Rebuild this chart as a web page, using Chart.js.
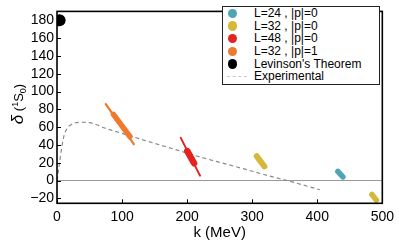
<!DOCTYPE html>
<html>
<head>
<meta charset="utf-8">
<script src="https://cdn.jsdelivr.net/npm/chart.js@4.4.1/dist/chart.umd.min.js"></script>
<style>
  html,body{margin:0;padding:0;background:#fff;}
  #wrap{position:relative;width:399px;height:249px;}
  #legend{position:absolute;left:222px;top:6px;width:158px;height:79px;border:1px solid #222;box-sizing:border-box;
    font:12px "Liberation Sans",Arial,sans-serif;color:#000;background:#fff;}
  #legend .row{position:relative;height:12.7px;line-height:12.7px;}
  #legend .dot{position:absolute;left:5px;top:1.7px;width:9.4px;height:9.4px;border-radius:50%;}
  #legend .dash{position:absolute;left:4px;top:6px;width:20px;border-top:1px dashed #c8c8c8;}
  #legend .txt{position:absolute;left:31px;top:0;white-space:nowrap;}
</style>
</head>
<body>
<div id="wrap">
  <canvas id="c" width="399" height="249"></canvas>
  <div id="legend"></div>
</div>
<script>
(function(){
  // axis ticks
  const xTicks = [0, 100, 200, 300, 400, 500];
  const yTicks = [-20, 0, 20, 40, 60, 80, 100, 120, 140, 160, 180];

  // experimental phase shift (dashed curve)
  const expK     = [0, 2, 4, 7, 11, 16, 22, 28, 37, 50, 60, 72, 100, 140, 172, 220, 278, 330, 354, 404];
  const expDelta = [0, 10, 20.5, 36, 51, 59, 63, 65, 65.5, 65, 63, 59.4, 53, 44, 37, 26.5, 15, 4.5, 0, -10.3];

  // lattice results: ends of the error bands (thin = full band, core = inner ellipse)
  const l32p1ThinK  = [75, 118.1],   l32p1ThinD  = [85.9, 40.9];
  const l32p1CoreK  = [86.7, 112],   l32p1CoreD  = [74.3, 49.5];
  const l48ThinK    = [190.2, 219.8], l48ThinD   = [48, 5.6];
  const l48CoreK    = [200.3, 210.7], l48CoreD   = [33.1, 19.5];
  const l32aK       = [307, 318.8],  l32aD       = [27.4, 15.9];
  const l32bK       = [484, 491],    l32bD       = [-15.6, -22];
  const l24K        = [431.6, 439.4], l24D       = [10.3, 4.1];
  const levinsonK   = [4],           levinsonD   = [180];

  const legendLabels = ['L=24 , |p|=0', 'L=32 , |p|=0', 'L=48 , |p|=0', 'L=32 , |p|=1', "Levinson's Theorem", 'Experimental'];
  const colors = { teal:'#4ea5b5', yellow:'#d5b83b', red:'#e2231f', orange:'#ee7a2e', black:'#000', gray:'#8a8a8a' };
  const legendColors = [colors.teal, colors.yellow, colors.red, colors.orange, colors.black, null];

  const FONT = '"Liberation Sans", Arial, Helvetica, sans-serif';

  function pts(ks, ds){ return ks.map((k,i)=>({x:k, y:ds[i]})); }
  function band(data, color, width){
    return { data: pts(data[0], data[1]), showLine:true, borderColor:color, backgroundColor:color,
      borderWidth:width, borderCapStyle:'round', pointRadius:0, pointHoverRadius:0 };
  }

  // legend box inside the plot
  const legend = document.getElementById('legend');
  legendLabels.forEach((lab,i)=>{
    const row = document.createElement('div'); row.className = 'row';
    const mark = document.createElement('span');
    if(legendColors[i]){ mark.className = 'dot'; mark.style.background = legendColors[i]; }
    else mark.className = 'dash';
    const t = document.createElement('span'); t.className = 'txt'; t.textContent = lab;
    row.appendChild(mark); row.appendChild(t); legend.appendChild(row);
  });

  // frame, inward ticks and the y title with mixed fonts
  const frame = {
    id:'frame',
    afterDraw(chart){
      const {ctx, chartArea:a, scales:{x, y}} = chart;
      ctx.save();
      ctx.strokeStyle = '#000';
      ctx.lineWidth = 1;
      ctx.beginPath();
      xTicks.forEach(v=>{ const p = Math.round(x.getPixelForValue(v))+0.5; ctx.moveTo(p, a.bottom); ctx.lineTo(p, a.bottom-4); });
      yTicks.forEach(v=>{ const p = Math.round(y.getPixelForValue(v))+0.5; ctx.moveTo(a.left, p); ctx.lineTo(a.left+4, p); });
      ctx.stroke();
      ctx.lineWidth = 1.6;
      ctx.strokeRect(a.left, a.top, a.right-a.left, a.bottom-a.top);

      // y title: δ (¹S₀)
      const parts = [
        ['δ', 'italic 17px ' + FONT, 0],
        [' (', '13px ' + FONT, 0],
        ['1', '9px ' + FONT, -5],
        ['S', '13px ' + FONT, 0],
        ['0', '9px ' + FONT, 3],
        [')', '13px ' + FONT, 0]
      ];
      ctx.translate(23, 104);
      ctx.rotate(-Math.PI/2);
      ctx.fillStyle = '#000';
      ctx.textBaseline = 'alphabetic';
      let w = 0;
      parts.forEach(p=>{ ctx.font = p[1]; w += ctx.measureText(p[0]).width; });
      let cx = -w/2;
      parts.forEach(p=>{ ctx.font = p[1]; ctx.fillText(p[0], cx, p[2]); cx += ctx.measureText(p[0]).width; });
      ctx.restore();
    }
  };

  const fmt = v => v < 0 ? '\u2212' + Math.abs(v) : String(v);

  new Chart(document.getElementById('c'), {
    type:'scatter',
    data:{
      datasets:[
        { data: pts(levinsonK, levinsonD), clip:0, pointRadius:6, pointHoverRadius:6,
          backgroundColor:colors.black, borderColor:colors.black, borderWidth:0 },
        band([l32p1CoreK, l32p1CoreD], colors.orange, 5.5),
        band([l32p1ThinK, l32p1ThinD], colors.orange, 2.3),
        band([l48CoreK, l48CoreD], colors.red, 6.5),
        band([l48ThinK, l48ThinD], colors.red, 2),
        band([l32aK, l32aD], colors.yellow, 6),
        band([l32bK, l32bD], colors.yellow, 5.5),
        band([l24K, l24D], colors.teal, 5.5),
        { data: pts(expK, expDelta), showLine:true, borderColor:colors.gray, borderWidth:1.2,
          borderDash:[4,3], pointRadius:0, pointHoverRadius:0, cubicInterpolationMode:'monotone' }
      ]
    },
    options:{
      responsive:false,
      animation:false,
      devicePixelRatio:1,
      layout:{ padding:{ top:0.5, right:13.5, bottom:0, left:0 } },
      plugins:{ legend:{ display:false }, tooltip:{ enabled:false } },
      scales:{
        x:{
          type:'linear', min:0, max:500,
          afterBuildTicks: s => { s.ticks = xTicks.map(v=>({value:v})); },
          afterFit: s => { s.height = 45.7; },
          grid:{ display:false, drawTicks:false },
          border:{ display:false },
          ticks:{ color:'#000', font:{ family:FONT, size:14 }, padding:5, maxRotation:0, autoSkip:false, callback: fmt },
          title:{ display:true, text:'k (MeV)', color:'#000', font:{ family:FONT, size:15 }, padding:{ top:0, bottom:7 } }
        },
        y:{
          type:'linear', min:-25.5, max:190,
          afterBuildTicks: s => { s.ticks = yTicks.map(v=>({value:v})); },
          afterFit: s => { s.width = 57; },
          grid:{ drawTicks:false, lineWidth:1, color: c => (c.tick && c.tick.value === 0) ? '#9a9a9a' : 'rgba(0,0,0,0)' },
          border:{ display:false },
          ticks:{ color:'#000', font:{ family:FONT, size:14 }, padding:3, autoSkip:false, callback: fmt },
          title:{ display:false }
        }
      }
    },
    plugins:[frame]
  });
})();
</script>
</body>
</html>
